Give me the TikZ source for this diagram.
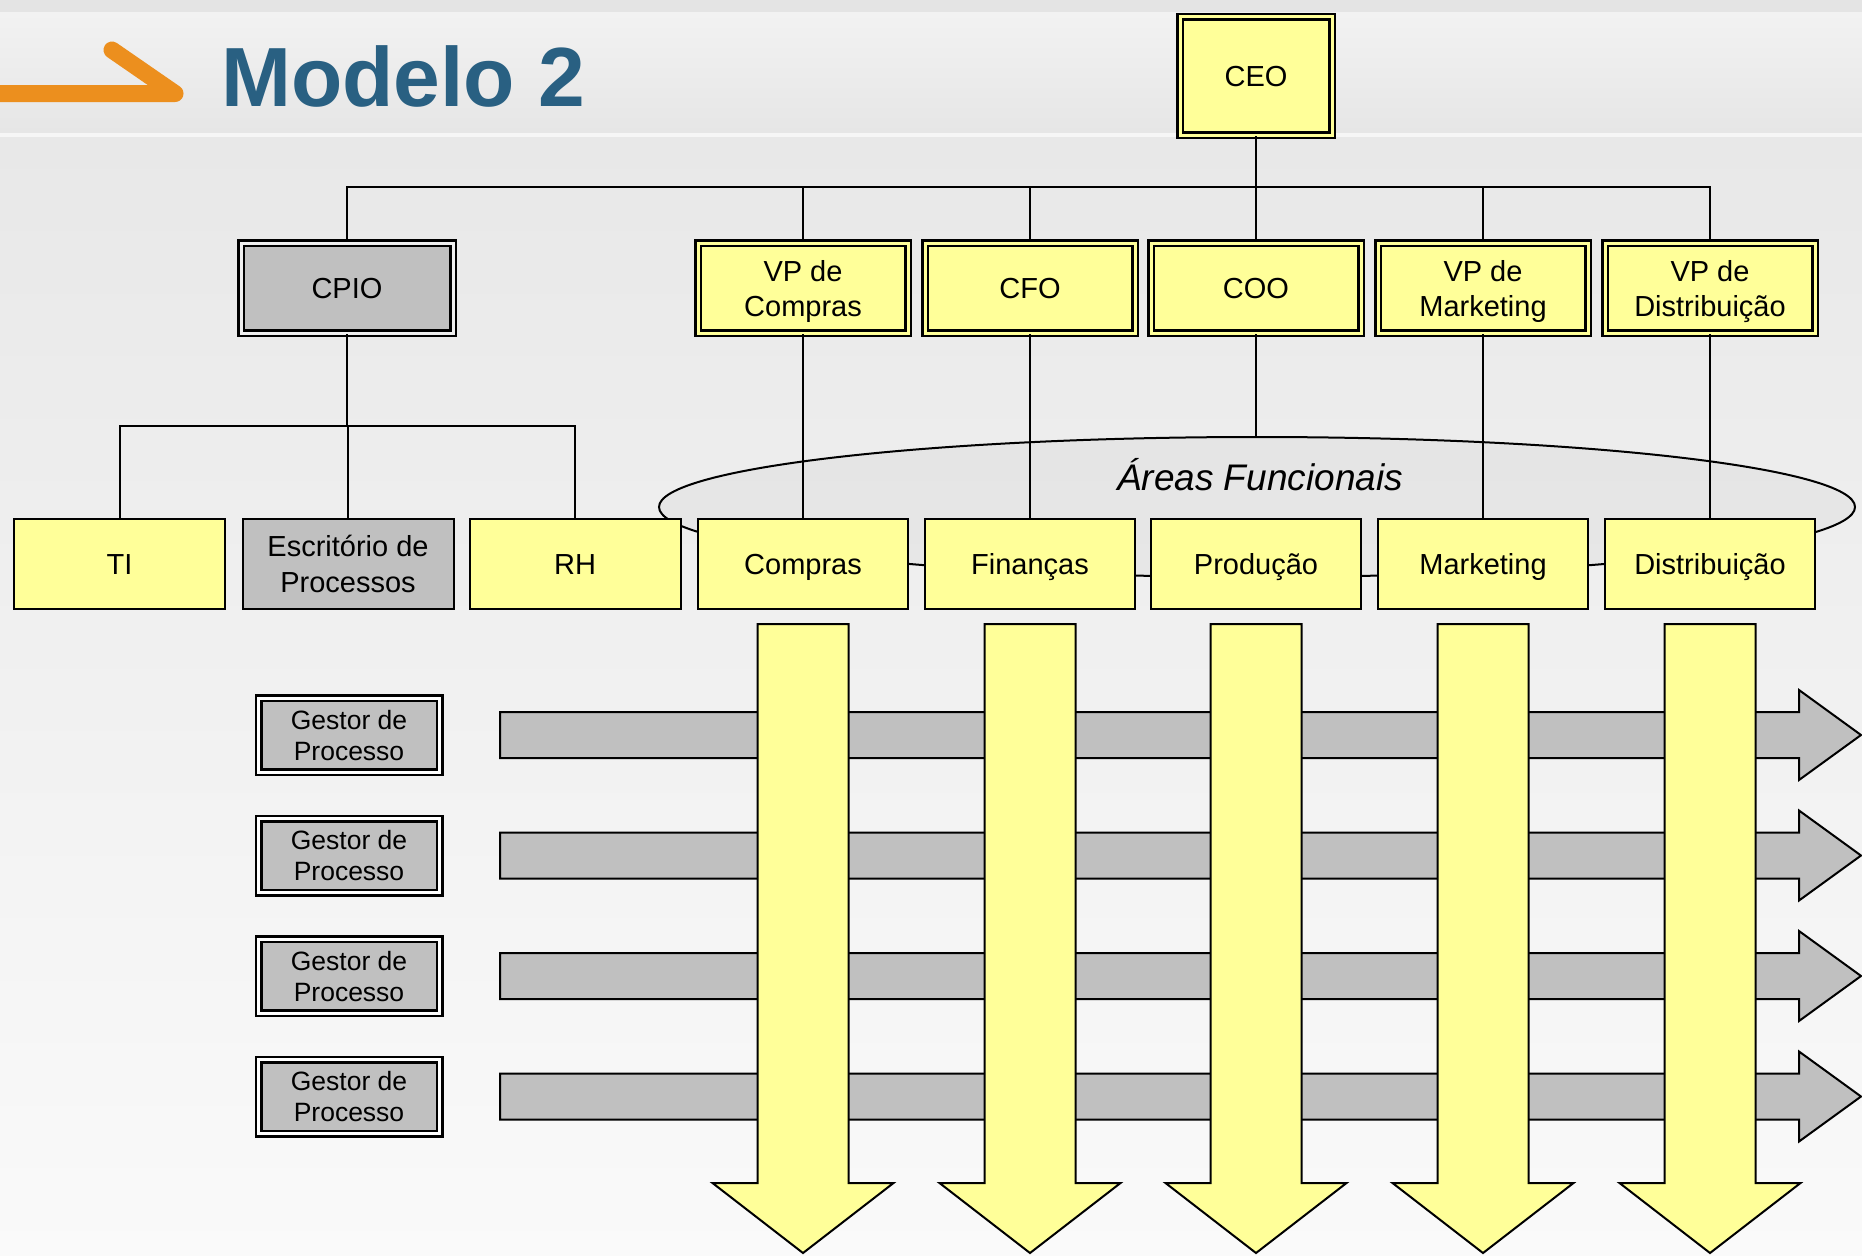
\documentclass[tikz,border=0pt]{standalone}
\usepackage{fontspec}
\setmainfont{Liberation Sans}
\usetikzlibrary{shapes.geometric}
\definecolor{boxyellow}{RGB}{255,255,153}
\definecolor{boxgray}{RGB}{192,192,192}
\definecolor{titleblue}{RGB}{41,96,130}
\definecolor{accentorange}{RGB}{236,143,30}
\definecolor{bgtop}{RGB}{228,228,228}
\definecolor{bghead}{RGB}{242,242,242}
\definecolor{bgheadb}{RGB}{230,230,230}
\definecolor{bgmid}{RGB}{232,232,232}
\definecolor{bgline}{RGB}{246,246,246}
\begin{document}
\begin{tikzpicture}[x=1pt,y=-1pt,
  conn/.style={draw=black, line width=2pt},
  dbox/.style={draw=black, line width=2.5pt, double distance=3pt, inner sep=0pt, align=center, text=black},
  oneline/.style={text height=21pt, text depth=0pt},
  twoline/.style={text depth=0pt},
  ydbox/.style={dbox, fill=boxyellow, double=boxyellow, minimum width=210pt, minimum height=90pt, font=\fontsize{29}{35}\selectfont},
  gdbox/.style={dbox, fill=boxgray, double=white!75!boxgray, minimum width=212pt, minimum height=90pt, font=\fontsize{29}{35}\selectfont},
  sbox/.style={draw=black, line width=2pt, inner sep=0pt, align=center, minimum width=210pt, minimum height=90pt, font=\fontsize{29}{36}\selectfont},
  ysbox/.style={sbox, fill=boxyellow},
  gsbox/.style={sbox, fill=boxgray},
  gestor/.style={dbox, fill=boxgray, double=white, minimum width=181pt, minimum height=74pt, font=\fontsize{26.5}{31}\selectfont, twoline},
  harrow/.style={draw=black, line width=2pt, fill=boxgray, line join=miter},
  varrow/.style={draw=black, line width=2pt, fill=boxyellow, line join=miter}
]
\useasboundingbox (0,0) rectangle (1862,1255);
% background
\fill[bgtop] (0,0) rectangle (1862,13);
\shade[top color=bghead, bottom color=bgheadb] (0,13) rectangle (1862,133);
\fill[bgline] (0,133) rectangle (1862,137);
\shade[top color=bgmid, bottom color=white!98!black] (0,137) rectangle (1862,1255);

% title
\draw[accentorange, line width=17pt, line cap=round, line join=round] (-10,93.5) -- (175,93.5) -- (112,50);
\node[anchor=base west, inner sep=0pt, text=titleblue, font={\fontsize{84}{90}\selectfont\bfseries}] (title) at (221,106) {Modelo 2};

% functional areas ellipse
\node[ellipse, draw=black, line width=2pt, fill=black, fill opacity=0.03, draw opacity=1, minimum width=1196pt, minimum height=140pt, inner sep=0pt] (areas) at (1257,507) {};
\node[font={\fontsize{37}{40}\selectfont\itshape}, inner sep=0pt, anchor=base] (areaslbl) at (1260,490) {Áreas Funcionais};

% CEO
\node[ydbox, oneline, minimum width=152pt, minimum height=118pt] (ceo) at (1256,76) {CEO};

% second row
\node[gdbox, oneline] (cpio) at (347,288) {CPIO};
\node[ydbox, twoline] (vpc) at (803,288) {VP de\\Compras};
\node[ydbox, oneline] (cfo) at (1030,288) {CFO};
\node[ydbox, oneline] (coo) at (1256,288) {COO};
\node[ydbox, twoline] (vpm) at (1483,288) {VP de\\Marketing};
\node[ydbox, twoline] (vpd) at (1710,288) {VP de\\Distribuição};

% third row
\node[ysbox, oneline, minimum width=211pt] (ti) at (119.5,564) {TI};
\node[gsbox, twoline, minimum width=211pt] (esc) at (348,564) {Escritório de\\Processos};
\node[ysbox, oneline, minimum width=211pt] (rh) at (575,564) {RH};
\node[ysbox, oneline] (compras) at (803,564) {Compras};
\node[ysbox, oneline] (fin) at (1030,564) {Finanças};
\node[ysbox, oneline] (prod) at (1256,564) {Produção};
\node[ysbox, oneline] (mkt) at (1483,564) {Marketing};
\node[ysbox, oneline] (dist) at (1710,564) {Distribuição};

% connectors
\coordinate (bus) at (1256,187);
\coordinate (sbus) at (347,426);
\draw[conn] (ceo.south) -- (bus);
\draw[conn] (bus) -| (cpio.north);
\draw[conn] (bus) -| (vpc.north);
\draw[conn] (bus) -| (cfo.north);
\draw[conn] (bus) -- (coo.north);
\draw[conn] (bus) -| (vpm.north);
\draw[conn] (bus) -| (vpd.north);
\draw[conn] (cpio.south) -- (sbus);
\draw[conn] (sbus) -| (ti.north);
\draw[conn] (sbus) -| (esc.north);
\draw[conn] (sbus) -| (rh.north);
\draw[conn] (vpc.south) -- (compras.north);
\draw[conn] (cfo.south) -- (fin.north);
\draw[conn] (coo.south) -- (coo.south |- areas.north);
\draw[conn] (vpm.south) -- (mkt.north);
\draw[conn] (vpd.south) -- (dist.north);

% process arrows (horizontal)
\foreach \yy in {735,855.5,976,1096.5} {
  \draw[harrow] (500,\yy-23) -- (1799,\yy-23) -- (1799,\yy-45) -- (1861,\yy) -- (1799,\yy+45) -- (1799,\yy+23) -- (500,\yy+23) -- cycle;
}
% functional arrows (vertical)
\foreach \cx in {803,1030,1256,1483,1710} {
  \draw[varrow] (\cx-45.5,624) -- (\cx+45.5,624) -- (\cx+45.5,1183) -- (\cx+90.5,1183) -- (\cx,1253) -- (\cx-90.5,1183) -- (\cx-45.5,1183) -- cycle;
}

% process managers
\node[gestor] (g1) at (349,735) {Gestor de\\Processo};
\node[gestor] (g2) at (349,855.5) {Gestor de\\Processo};
\node[gestor] (g3) at (349,976) {Gestor de\\Processo};
\node[gestor] (g4) at (349,1096.5) {Gestor de\\Processo};
\end{tikzpicture}
\end{document}
